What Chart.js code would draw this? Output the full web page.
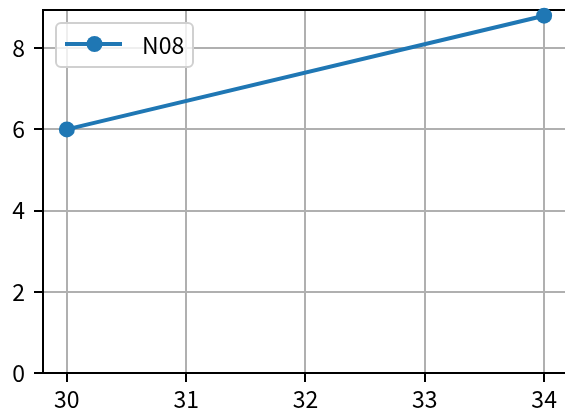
<!DOCTYPE html>
<html>
<head>
<meta charset="utf-8">
<script src="https://cdn.jsdelivr.net/npm/chart.js@4"></script>
<style>
  html, body { margin: 0; padding: 0; background: #fff; overflow: hidden; }
  #wrap { width: 576px; height: 414px; }
</style>
</head>
<body>
<div id="wrap"><canvas id="chart" width="576" height="414"></canvas></div>
<script>
// data
const xValues = [30, 34];
const yValues = [6, 8.8];
const seriesLabel = "N08";
const xTicks = [30, 31, 32, 33, 34];
const yTicks = [0, 2, 4, 6, 8];

const FONT = "'Noto Sans CJK JP', 'Noto Sans', sans-serif";
const BLUE = "#1f77b4";
const FS = 23;

// legend box drawn inside the plot, like matplotlib
const insideLegend = {
  id: "insideLegend",
  afterDatasetsDraw(chart) {
    const ctx = chart.ctx;
    const x = 56, y = 23, w = 137, h = 44;
    ctx.save();
    ctx.beginPath();
    ctx.roundRect(x, y, w, h, 5);
    ctx.fillStyle = "rgba(255,255,255,0.8)";
    ctx.fill();
    ctx.strokeStyle = "#d0d0d0";
    ctx.lineWidth = 2;
    ctx.stroke();

    ctx.strokeStyle = BLUE;
    ctx.lineWidth = 4;
    ctx.beginPath();
    ctx.moveTo(65, 44);
    ctx.lineTo(122, 44);
    ctx.stroke();
    ctx.fillStyle = BLUE;
    ctx.beginPath();
    ctx.arc(94.5, 44, 8, 0, Math.PI * 2);
    ctx.fill();

    ctx.fillStyle = "#000";
    ctx.font = FS + "px " + FONT;
    ctx.textBaseline = "middle";
    ctx.fillText(chart.data.datasets[0].label, 142, 45);
    ctx.restore();
  }
};

const axisGrid = {
  color: "#b0b0b0",
  lineWidth: 2,
  tickColor: "#000",
  tickLength: 9,
  drawTicks: true,
};

const ctx = document.getElementById("chart").getContext("2d");
new Chart(ctx, {
  type: "scatter",
  data: {
    datasets: [{
      label: seriesLabel,
      data: xValues.map((v, i) => ({ x: v, y: yValues[i] })),
      showLine: true,
      borderColor: BLUE,
      backgroundColor: BLUE,
      borderWidth: 4,
      pointRadius: 8,
      pointHoverRadius: 8,
      pointBorderWidth: 0,
      clip: false,
    }],
  },
  options: {
    responsive: false,
    animation: false,
    layout: { padding: { top: 10, right: 2, left: 0, bottom: 0 } },
    plugins: {
      legend: { display: false },
      tooltip: { enabled: false },
    },
    scales: {
      x: {
        type: "linear",
        min: 29.8,
        max: 34.2,
        afterBuildTicks: (s) => { s.ticks = xTicks.map(v => ({ value: v })); },
        afterFit: (s) => { s.height = 41; s.paddingLeft = 0; s.paddingRight = 0; },
        ticks: {
          color: "#000",
          font: { family: FONT, size: FS },
          padding: 3,
          maxRotation: 0,
        },
        grid: axisGrid,
        border: { color: "#000", width: 2 },
      },
      xTop: {
        type: "linear",
        position: "top",
        min: 29.8,
        max: 34.2,
        ticks: { display: false },
        grid: { display: false, drawTicks: false },
        border: { display: true, color: "#000", width: 2 },
        afterFit: (s) => { s.height = 0; s.paddingLeft = 0; s.paddingRight = 0; },
      },
      y: {
        type: "linear",
        min: 0,
        max: 8.94,
        afterBuildTicks: (s) => { s.ticks = yTicks.map(v => ({ value: v })); },
        afterFit: (s) => { s.width = 43; s.paddingTop = 0; s.paddingBottom = 0; },
        ticks: {
          color: "#000",
          font: { family: FONT, size: FS },
          padding: 9,
        },
        grid: axisGrid,
        border: { color: "#000", width: 2 },
      },
    },
  },
  plugins: [insideLegend],
});
</script>
</body>
</html>
